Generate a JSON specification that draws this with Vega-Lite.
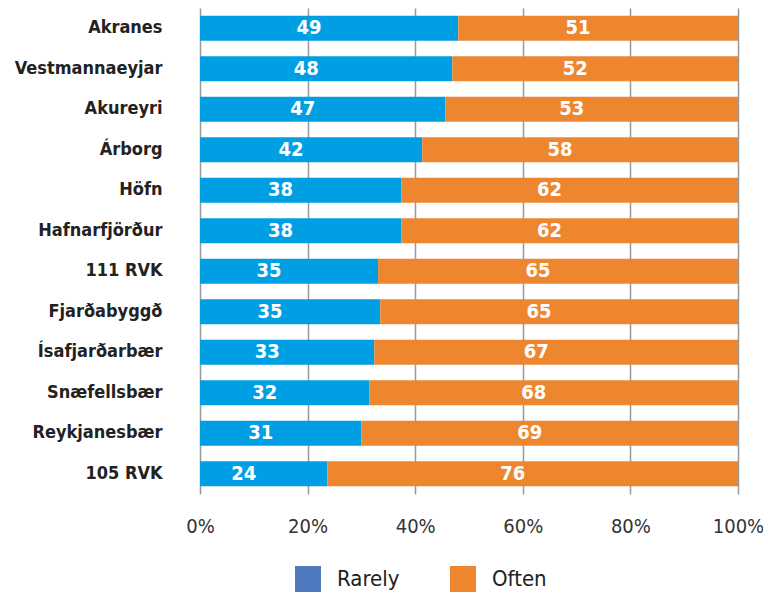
{
  "$schema": "https://vega.github.io/schema/vega-lite/v6.json",
  "autosize": {"type": "none"},
  "padding": {"left": 200, "top": 8, "right": 25, "bottom": 103},
  "width": 538,
  "height": 486,
  "background": "white",
  "config": {
    "view": {"stroke": null},
    "font": "DejaVu Sans Condensed, sans-serif"
  },
  "data": {
    "values": [
      {"place": "Akranes", "answer": "Rarely", "share": 48.0, "label": "49"},
      {"place": "Akranes", "answer": "Often", "share": 52.0, "label": "51"},
      {"place": "Vestmannaeyjar", "answer": "Rarely", "share": 46.9, "label": "48"},
      {"place": "Vestmannaeyjar", "answer": "Often", "share": 53.1, "label": "52"},
      {"place": "Akureyri", "answer": "Rarely", "share": 45.6, "label": "47"},
      {"place": "Akureyri", "answer": "Often", "share": 54.4, "label": "53"},
      {"place": "Árborg", "answer": "Rarely", "share": 41.3, "label": "42"},
      {"place": "Árborg", "answer": "Often", "share": 58.7, "label": "58"},
      {"place": "Höfn", "answer": "Rarely", "share": 37.4, "label": "38"},
      {"place": "Höfn", "answer": "Often", "share": 62.6, "label": "62"},
      {"place": "Hafnarfjörður", "answer": "Rarely", "share": 37.4, "label": "38"},
      {"place": "Hafnarfjörður", "answer": "Often", "share": 62.6, "label": "62"},
      {"place": "111 RVK", "answer": "Rarely", "share": 33.1, "label": "35"},
      {"place": "111 RVK", "answer": "Often", "share": 66.9, "label": "65"},
      {"place": "Fjarðabyggð", "answer": "Rarely", "share": 33.5, "label": "35"},
      {"place": "Fjarðabyggð", "answer": "Often", "share": 66.5, "label": "65"},
      {"place": "Ísafjarðarbær", "answer": "Rarely", "share": 32.4, "label": "33"},
      {"place": "Ísafjarðarbær", "answer": "Often", "share": 67.6, "label": "67"},
      {"place": "Snæfellsbær", "answer": "Rarely", "share": 31.5, "label": "32"},
      {"place": "Snæfellsbær", "answer": "Often", "share": 68.5, "label": "68"},
      {"place": "Reykjanesbær", "answer": "Rarely", "share": 30.0, "label": "31"},
      {"place": "Reykjanesbær", "answer": "Often", "share": 70.0, "label": "69"},
      {"place": "105 RVK", "answer": "Rarely", "share": 23.7, "label": "24"},
      {"place": "105 RVK", "answer": "Often", "share": 76.3, "label": "76"}
    ]
  },
  "transform": [
    {"calculate": "datum.answer === 'Rarely' ? 0 : 1", "as": "ord"}
  ],
  "encoding": {
    "y": {
      "field": "place",
      "type": "nominal",
      "sort": null,
      "scale": {"paddingInner": 0.38, "paddingOuter": 0.19},
      "axis": {
        "title": null,
        "domain": false,
        "ticks": false,
        "grid": false,
        "labelFontSize": 18,
        "labelFontWeight": "bold",
        "labelColor": "#222222",
        "labelPadding": 38
      }
    },
    "x": {
      "field": "share",
      "type": "quantitative",
      "stack": "normalize",
      "scale": {"domain": [0, 1]},
      "axis": {
        "title": null,
        "format": ".0%",
        "values": [0, 0.2, 0.4, 0.6, 0.8, 1],
        "domain": false,
        "ticks": false,
        "grid": true,
        "gridColor": "#999999",
        "gridWidth": 1.5,
        "labelFlush": false,
        "labelFontSize": 20,
        "labelColor": "#333333",
        "labelPadding": 22
      }
    },
    "order": {"field": "ord", "type": "quantitative"}
  },
  "layer": [
    {
      "mark": {"type": "bar"},
      "encoding": {
        "fill": {
          "field": "answer",
          "type": "nominal",
          "scale": {"range": ["#EE8630", "#009FE3"]},
          "legend": null
        }
      }
    },
    {
      "mark": {"type": "square", "opacity": 0},
      "encoding": {
        "color": {
          "field": "answer",
          "type": "nominal",
          "scale": {"domain": ["Rarely", "Often"], "range": ["#4F7ABF", "#EE8630"]},
          "legend": {
            "title": null,
            "orient": "none",
            "direction": "horizontal",
            "legendX": 95,
            "legendY": 558,
            "symbolType": "square",
            "symbolSize": 676,
            "symbolOpacity": 1,
            "symbolStrokeWidth": 0,
            "labelFontSize": 22,
            "labelColor": "#222222",
            "labelOffset": 16,
            "columnPadding": 50
          }
        }
      }
    },
    {
      "mark": {
        "type": "text",
        "color": "white",
        "fontSize": 20,
        "fontWeight": "bold",
        "dx": -20,
        "baseline": "middle"
      },
      "encoding": {
        "x": {"field": "share", "type": "quantitative", "stack": "normalize", "bandPosition": 0.5},
        "text": {"field": "label", "type": "nominal"}
      }
    }
  ]
}
